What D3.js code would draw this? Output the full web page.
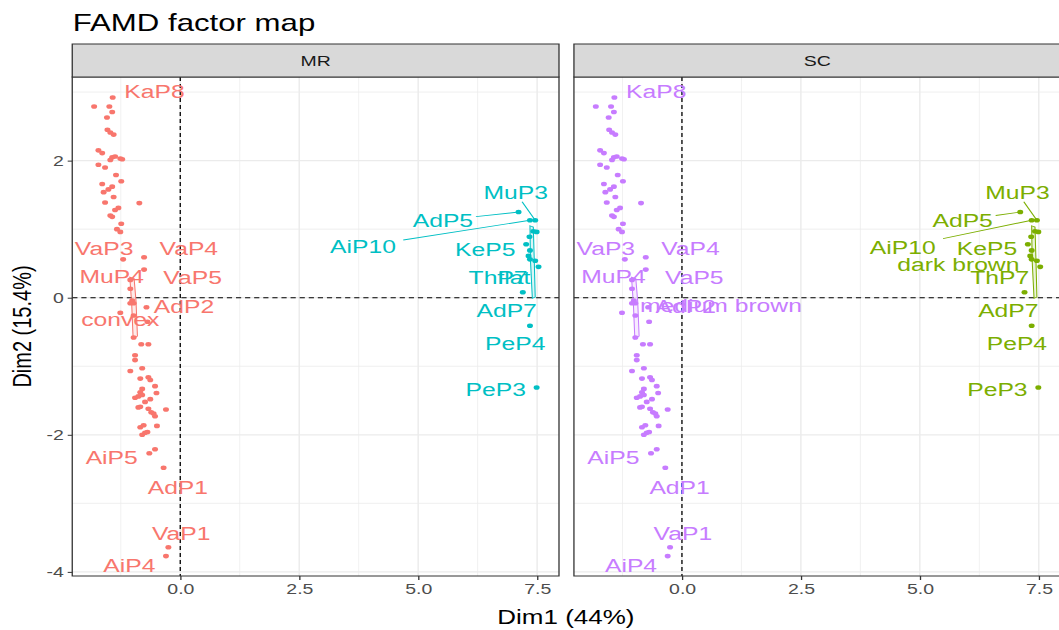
<!DOCTYPE html>
<html>
<head>
<meta charset="utf-8">
<script src="https://cdn.jsdelivr.net/npm/d3@7"></script>
<style>
  body { margin: 0; background: #fff; }
  svg { display: block; }
</style>
</head>
<body>
<div id="chart"></div>
<script>
// facets and axis ticks
const facets = ["MR", "SC"];
const xTicks = [0, 2.5, 5, 7.5];
const yTicks = [-4, -2, 0, 2];
const xMinor = [-1.25, 1.25, 3.75, 6.25];
const yMinor = [-3, -1, 1, 3];

// individuals, first group (left cloud)
const dim1A = [-1.42,-1.81,-1.49,-1.43,-1.54,-1.53,-1.47,-1.40,-1.72,-1.64,-1.43,-1.37,-1.26,-1.22,-1.47,-1.72,-1.58,-1.35,-1.24,-1.64,
  -1.43,-1.51,-1.61,-1.40,-1.58,-0.86,-1.30,-1.37,-1.47,-1.43,-1.24,-1.33,-1.26,-0.76,-1.20,-0.76,-1.05,-1.05,-1.01,-0.98,
  -1.05,-0.71,-1.26,-0.98,-0.69,-0.98,-0.82,-0.67,-0.95,-0.95,-1.05,-0.80,-0.84,-0.67,-0.63,-0.53,-0.80,-0.84,-0.50,-0.95,
  -0.88,-0.80,-0.63,-0.74,-0.84,-0.88,-0.67,-0.61,-0.56,-0.53,-0.30,-0.49,-0.84,-0.77,-0.80,-0.74,-0.69,-0.53,-0.65,-0.35,
  -0.25,-0.30];
const dim2A = [2.92,2.79,2.79,2.71,2.63,2.45,2.41,2.38,2.15,2.11,2.05,2.06,2.03,2.02,2.01,1.94,1.90,1.79,1.70,1.66,
  1.62,1.58,1.54,1.47,1.39,1.38,1.31,1.28,1.20,1.18,1.08,1.00,0.96,0.59,0.56,0.41,0.26,0.13,-0.04,-0.08,
  -0.08,-0.14,-0.22,-0.26,-0.35,-0.58,-0.68,-0.68,-0.84,-0.91,-1.07,-1.03,-1.18,-1.16,-1.20,-1.29,-1.33,-1.38,-1.39,-1.46,
  -1.44,-1.42,-1.48,-1.52,-1.59,-1.60,-1.62,-1.67,-1.69,-1.73,-1.63,-1.87,-1.89,-1.86,-2.00,-1.97,-1.96,-2.21,-2.27,-2.48,
  -3.64,-3.77];

// individuals, second group (right cloud)
const dim1B = [7.11,7.35,7.46,7.49,7.42,7.34,7.27,7.35,7.32,7.35,7.46,7.53,7.20,7.35,7.49];
const dim2B = [1.25,1.13,1.13,0.96,0.97,0.89,0.78,0.69,0.61,0.56,0.54,0.45,0.08,-0.41,-1.31];

// narrow outlines around sub-groups
const hullA = [[-1.06,0.30],[-0.97,0.28],[-0.93,-0.05],[-0.90,-0.56],[-0.99,-0.60],[-1.02,-0.10]];
const hullB = [[7.35,1.05],[7.42,1.03],[7.44,0.55],[7.46,0.01],[7.40,-0.01],[7.36,0.55]];

// repelled labels: text, label centre (Dim1, Dim2), group (0 = left cloud, 1 = right cloud)
const labelsMR = ["KaP8","VaP3","VaP4","MuP4","VaP5","AdP2","convex","AiP5","AdP1","VaP1","AiP4",
  "MuP3","AdP5","AiP10","KeP5","ThP7","flat","AdP7","PeP4","PeP3"];
const labelsMRx = [-0.54,-1.60,0.18,-1.44,0.26,0.08,-1.26,-1.44,-0.05,0.02,-1.07,
  7.05,5.52,3.84,6.41,6.68,7.01,6.86,7.04,6.63];
const labelsMRy = [3.01,0.72,0.72,0.31,0.30,-0.12,-0.31,-2.33,-2.76,-3.44,-3.90,
  1.53,1.13,0.75,0.71,0.29,0.29,-0.18,-0.66,-1.33];
const labelsMRgroup = [0,0,0,0,0,0,0,0,0,0,0,1,1,1,1,1,1,1,1,1];

const labelsSC = ["KaP8","VaP3","VaP4","MuP4","VaP5","AdP2","medium brown","AiP5","AdP1","VaP1","AiP4",
  "MuP3","AdP5","AiP10","KeP5","dark brown","ThP7","AdP7","PeP4","PeP3"];
const labelsSCx = [-0.54,-1.60,0.18,-1.44,0.26,0.08,0.82,-1.44,-0.05,0.02,-1.07,
  7.05,5.90,4.64,6.41,5.81,6.68,6.86,7.04,6.63];
const labelsSCy = [3.01,0.72,0.72,0.31,0.30,-0.12,-0.11,-2.33,-2.76,-3.44,-3.90,
  1.53,1.13,0.74,0.72,0.49,0.29,-0.18,-0.66,-1.33];
const labelsSCgroup = [0,0,0,0,0,0,0,0,0,0,0,1,1,1,1,1,1,1,1,1];

// labels that are joined to their point by a segment, and the point index in group B
const segLabels = ["MuP3","AdP5","AiP10"];
const segPoint = [2, 0, 1];

const colours = { MR: ["#F8766D", "#00BFC4"], SC: ["#C77CFF", "#7CAE00"] };

// the reference is stretched horizontally, so draw in a narrower box and stretch it
const W = 815, H = 630;
const font = "'Liberation Sans', Arial, Helvetica, sans-serif";

const svg = d3.select("#chart").append("svg")
  .attr("width", 1059).attr("height", H)
  .attr("viewBox", `0 0 ${W} ${H}`)
  .attr("preserveAspectRatio", "none")
  .style("font-family", font);

const panelW = 374.6, panelTop = 77, panelBottom = 576, stripTop = 44;
const panelLeft = { MR: 55.6, SC: 441.7 };

const y = d3.scaleLinear().domain([-4.06, 3.22]).range([panelBottom, panelTop]);

svg.append("text")
  .attr("x", 56).attr("y", 31)
  .attr("font-size", 24)
  .attr("fill", "#000")
  .text("FAMD factor map");

const pointsA = dim1A.map((d, i) => [d, dim2A[i]]);
const pointsB = dim1B.map((d, i) => [d, dim2B[i]]);

facets.forEach(f => {
  const x0 = panelLeft[f];
  const x = d3.scaleLinear().domain([-2.27, 7.96]).range([x0, x0 + panelW]);
  const col = colours[f];
  const g = svg.append("g");

  // panel background & grid
  g.append("rect").attr("x", x0).attr("y", panelTop)
    .attr("width", panelW).attr("height", panelBottom - panelTop).attr("fill", "#fff");

  g.selectAll(".minx").data(xMinor).enter().append("line")
    .attr("x1", d => x(d)).attr("x2", d => x(d))
    .attr("y1", panelTop).attr("y2", panelBottom)
    .attr("stroke", "#EBEBEB").attr("stroke-width", 0.6);
  g.selectAll(".miny").data(yMinor).enter().append("line")
    .attr("y1", d => y(d)).attr("y2", d => y(d))
    .attr("x1", x0).attr("x2", x0 + panelW)
    .attr("stroke", "#EBEBEB").attr("stroke-width", 0.7);
  g.selectAll(".majx").data(xTicks).enter().append("line")
    .attr("x1", d => x(d)).attr("x2", d => x(d))
    .attr("y1", panelTop).attr("y2", panelBottom)
    .attr("stroke", "#EBEBEB").attr("stroke-width", 1.1);
  g.selectAll(".majy").data(yTicks).enter().append("line")
    .attr("y1", d => y(d)).attr("y2", d => y(d))
    .attr("x1", x0).attr("x2", x0 + panelW)
    .attr("stroke", "#EBEBEB").attr("stroke-width", 1.3);

  // reference lines
  g.append("line").attr("x1", x(0)).attr("x2", x(0))
    .attr("y1", panelTop).attr("y2", panelBottom)
    .attr("stroke", "#000").attr("stroke-width", 1).attr("stroke-dasharray", "4,3");
  g.append("line").attr("y1", y(0)).attr("y2", y(0))
    .attr("x1", x0).attr("x2", x0 + panelW)
    .attr("stroke", "#000").attr("stroke-width", 1).attr("stroke-dasharray", "4,3");

  // outlines
  const line = d3.line().x(d => x(d[0])).y(d => y(d[1])).curve(d3.curveLinearClosed);
  g.append("path").attr("d", line(hullA))
    .attr("fill", col[0]).attr("fill-opacity", 0.15)
    .attr("stroke", col[0]).attr("stroke-width", 0.8);
  g.append("path").attr("d", line(hullB))
    .attr("fill", col[1]).attr("fill-opacity", 0.15)
    .attr("stroke", col[1]).attr("stroke-width", 0.8);

  // points
  g.selectAll(".pa").data(pointsA).enter().append("circle")
    .attr("cx", d => x(d[0])).attr("cy", d => y(d[1])).attr("r", 2.3)
    .attr("fill", col[0]);
  g.selectAll(".pb").data(pointsB).enter().append("circle")
    .attr("cx", d => x(d[0])).attr("cy", d => y(d[1])).attr("r", 2.3)
    .attr("fill", col[1]);

  // labels
  const names = f === "MR" ? labelsMR : labelsSC;
  const lx = f === "MR" ? labelsMRx : labelsSCx;
  const ly = f === "MR" ? labelsMRy : labelsSCy;
  const lg = f === "MR" ? labelsMRgroup : labelsSCgroup;

  const labs = names.map((t, i) => ({ t, x: lx[i], y: ly[i], c: col[lg[i]] }));

  // segments from label box edge to its point
  labs.forEach(l => {
    const k = segLabels.indexOf(l.t);
    if (k < 0) return;
    const p = pointsB[segPoint[k]];
    const cx = x(l.x), cy = y(l.y), px = x(p[0]), py = y(p[1]);
    const hw = l.t.length * 5.6 + 3, hh = 9;
    const dx = px - cx, dy = py - cy;
    const t = Math.min(Math.abs(hw / dx), Math.abs(hh / dy));
    g.append("line")
      .attr("x1", cx + dx * t).attr("y1", cy + dy * t)
      .attr("x2", px).attr("y2", py)
      .attr("stroke", l.c).attr("stroke-width", 0.9);
  });

  g.selectAll(".lab").data(labs).enter().append("text")
    .attr("x", d => x(d.x)).attr("y", d => y(d.y))
    .attr("dy", "0.35em")
    .attr("text-anchor", "middle")
    .attr("font-size", 19)
    .attr("fill", d => d.c)
    .text(d => d.t);

  // panel border
  g.append("rect").attr("x", x0).attr("y", panelTop)
    .attr("width", panelW).attr("height", panelBottom - panelTop)
    .attr("fill", "none").attr("stroke", "#333").attr("stroke-width", 1);

  // strip
  g.append("rect").attr("x", x0).attr("y", stripTop)
    .attr("width", panelW).attr("height", panelTop - stripTop)
    .attr("fill", "#D9D9D9").attr("stroke", "#333").attr("stroke-width", 1);
  g.append("text")
    .attr("x", x0 + panelW / 2).attr("y", (stripTop + panelTop) / 2)
    .attr("dy", "0.35em").attr("text-anchor", "middle")
    .attr("font-size", 15).attr("fill", "#1A1A1A")
    .text(f);

  // x axis
  const xa = g.append("g")
    .attr("transform", `translate(0,${panelBottom})`)
    .call(d3.axisBottom(x).tickValues(xTicks).tickFormat(d3.format(".1f")).tickSize(4).tickPadding(3));
  xa.select(".domain").remove();
  xa.selectAll("line").attr("stroke", "#333");
  xa.selectAll("text").attr("font-size", 15).attr("fill", "#4D4D4D").attr("font-family", font);

  if (f === "MR") {
    const ya = g.append("g")
      .attr("transform", `translate(${x0},0)`)
      .call(d3.axisLeft(y).tickValues(yTicks).tickFormat(d => String(d)).tickSize(3.5).tickPadding(3));
    ya.select(".domain").remove();
    ya.selectAll("line").attr("stroke", "#333");
    ya.selectAll("text").attr("font-size", 15).attr("fill", "#4D4D4D").attr("font-family", font);
  }
});

// axis titles
svg.append("text")
  .attr("x", 435.5).attr("y", 617).attr("dy", "0.35em")
  .attr("text-anchor", "middle").attr("font-size", 20).attr("fill", "#000")
  .text("Dim1 (44%)");

svg.append("text")
  .attr("transform", `translate(17,${(panelTop + panelBottom) / 2}) rotate(-90)`)
  .attr("dy", "0.35em")
  .attr("text-anchor", "middle").attr("font-size", 20).attr("fill", "#000")
  .text("Dim2 (15.4%)");
</script>
</body>
</html>
